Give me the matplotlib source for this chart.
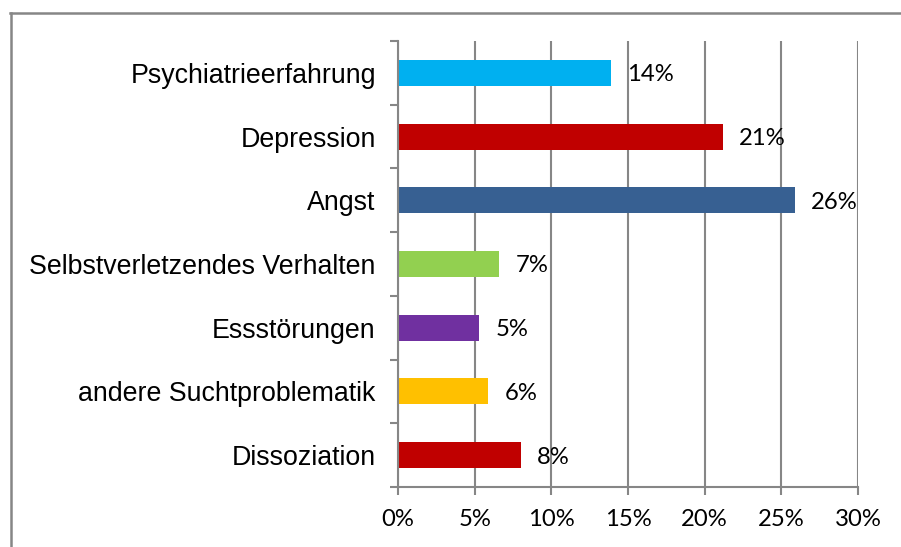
from matplotlib import pyplot as plt
from matplotlib.lines import Line2D
import numpy as np

# data (top to bottom as in the chart)
categories = ["Psychiatrieerfahrung", "Depression", "Angst",
              "Selbstverletzendes Verhalten", "Essstörungen",
              "andere Suchtproblematik", "Dissoziation"]
values = [13.9, 21.2, 25.9, 6.6, 5.3, 5.9, 8.0]
labels = ["14%", "21%", "26%", "7%", "5%", "6%", "8%"]
colors = ["#00B0F0", "#C00000", "#376092", "#92D050", "#7030A0", "#FFC000", "#C00000"]
xticks = [0, 5, 10, 15, 20, 25, 30]

grey = "#868686"
numfont = "Lato"

fig = plt.figure(figsize=(9.01, 5.47), dpi=100)
ax = fig.add_axes([398/901, 1 - 487/547, 460/901, 446/547])

y = np.arange(len(categories))
ax.barh(y, values, height=0.41, color=colors)

for yi, v, lab in zip(y, values, labels):
    ax.text(v + 1.05, yi + 0.03, lab, va="center", ha="left",
            fontsize=17.2, family=numfont, color="black")

ax.set_xlim(0, 30)
ax.set_ylim(len(categories) - 0.5, -0.5)
ax.set_xticks(xticks)
ax.set_xticklabels([f"{t}%" for t in xticks], fontsize=17.2, family=numfont)
ax.set_yticks(y)
ax.set_yticklabels(categories, fontsize=19.3, family="Liberation Sans")
ax.set_yticks(np.arange(-0.5, len(categories)), minor=True)

ax.tick_params(axis="y", which="major", length=0, pad=16)
ax.tick_params(axis="y", which="minor", length=6, width=1.5, color=grey)
ax.tick_params(axis="x", length=6, width=1.5, color=grey, pad=10)

ax.xaxis.grid(True, color=grey, linewidth=1.5)
ax.set_axisbelow(True)
for s in ["top", "right"]:
    ax.spines[s].set_visible(False)
for s in ["left", "bottom"]:
    ax.spines[s].set_color(grey)
    ax.spines[s].set_linewidth(1.5)

# outer frame (top and left edges visible)
fig.add_artist(Line2D([10/901, 1], [1 - 13/547, 1 - 13/547], color=grey, linewidth=1.8,
                      transform=fig.transFigure))
fig.add_artist(Line2D([10.5/901, 10.5/901], [0, 1 - 13/547], color=grey, linewidth=1.8,
                      transform=fig.transFigure))

fig.savefig("out.png", dpi=100)
